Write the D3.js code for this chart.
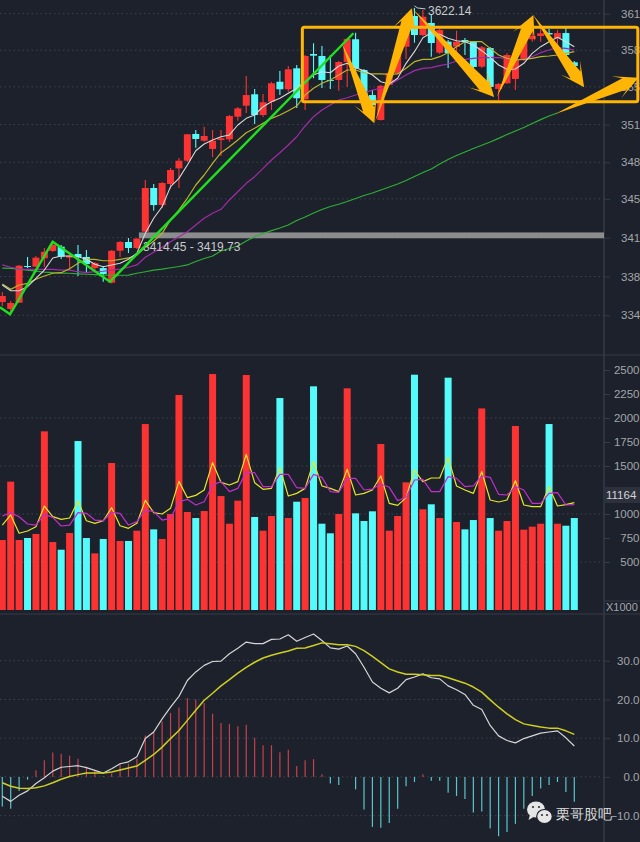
<!DOCTYPE html>
<html>
<head>
<meta charset="utf-8">
<script src="https://cdn.jsdelivr.net/npm/d3@7/dist/d3.min.js"></script>
<style>
html,body{margin:0;padding:0;background:#1c212b;overflow:hidden}
svg{display:block}
text{font-family:"Liberation Sans",Arial,sans-serif}
</style>
</head>
<body>
<svg id="chart" width="640" height="842"></svg>
<script>
// Daily candles
const opens=[3357,3350.7,3356.4,3389.4,3388.8,3396.4,3403,3406.9,3397,3400.3,3397.6,3387.6,3387.6,3374.4,3403.2,3411.1,3405.7,3420.4,3459.8,3444.4,3463.4,3477.5,3484.4,3508.5,3502.4,3495,3503,3503.7,3524.1,3534,3544.3,3525.6,3537.6,3555.6,3548.8,3567.7,3539.8,3580.6,3578.8,3557.2,3557.2,3573.4,3593.9,3566.2,3543.6,3521.1,3552.7,3563.5,3587.2,3614.9,3597.7,3608.6,3581.8,3591.7,3587.2,3593.2,3591.7,3569.2,3586,3549.1,3554.2,3558.1,3575.2,3593.9,3596.8,3599.5,3595,3599.5,3573.1];
const highs=[3366,3358,3390.3,3397.6,3398.5,3405.7,3411.4,3408.4,3399.4,3408.4,3403.9,3393,3389.4,3403.9,3412,3414.7,3414.45,3467,3463.4,3465.2,3477.8,3486.8,3508.5,3512.1,3515.1,3512.1,3512.1,3525.6,3532.8,3560.8,3549,3544.5,3555.4,3565.3,3569.8,3570.7,3579.7,3590.3,3587.8,3579.7,3574.3,3595,3599.8,3567.1,3548.1,3552.7,3564.4,3580.6,3600.4,3622.14,3620.3,3616.7,3603.2,3593.2,3601.6,3595,3592.3,3587.8,3586.9,3554.5,3581.5,3576.1,3598.6,3602.2,3603.8,3603.2,3602.2,3604,3574.3];
const lows=[3353.4,3347,3356,3387.6,3388.5,3388.5,3402.1,3395.8,3385.8,3380.4,3383.1,3385.8,3375.3,3373.7,3397.6,3401.2,3404.8,3419.73,3439.3,3441.7,3458.9,3459.8,3483.2,3496.1,3501.5,3487.7,3488.6,3501.5,3520.5,3527.4,3517.5,3523.8,3530.1,3543.6,3546.6,3531.9,3530.1,3558.7,3550,3549.1,3547.5,3550.9,3559.9,3542.7,3531.9,3520.6,3551.8,3562.6,3576.1,3590.8,3596.8,3578.2,3580.6,3568,3581.5,3579.7,3568,3568,3550,3539.1,3553.6,3548.1,3574.3,3591.7,3591.7,3593.2,3588.7,3577,3565.3];
const closes=[3362.4,3356.1,3389.7,3388.5,3397,3402.3,3408.4,3397.8,3398.7,3397.6,3391.2,3392.1,3382.2,3403.2,3411.1,3405.7,3414.2,3459.8,3444.4,3464.3,3476,3484.4,3508.2,3504,3506.7,3502.4,3504.6,3524.7,3531.6,3543.6,3525.6,3537.1,3554.2,3548.8,3566.8,3540.7,3578.8,3579.1,3557.2,3556.3,3573.4,3594.1,3567.7,3543.6,3534.6,3552,3563.5,3579.7,3599.5,3597.7,3614.2,3590.5,3602.2,3581.5,3591.7,3591.7,3568.9,3586.6,3550.9,3553.6,3579.7,3575.2,3597.7,3596.8,3599.3,3598.2,3599.5,3579.7,3569.8];

// Price moving averages
const ma5=[3372.3,3367.2,3367.2,3370.8,3378.3,3385.8,3396.7,3398.5,3398.5,3397.8,3395.5,3391,3388.8,3390.4,3391.9,3395.5,3400.9,3418.9,3432.5,3442.9,3461,3468.5,3480.5,3493.4,3499.5,3503,3506,3507.6,3516.6,3522.6,3525.6,3533.1,3537.6,3540.7,3545.2,3549.7,3555.6,3561.7,3564.6,3563.7,3569.8,3572.2,3568.3,3565.6,3561.7,3555.6,3553.6,3558.7,3572.2,3582.7,3595.3,3599.8,3598.4,3594.8,3592.6,3591.7,3588.7,3583.6,3577.6,3570.7,3566.8,3567.1,3572.2,3581.2,3587.2,3591.7,3595.7,3591.7,3587.2];
const ma10=[3373.2,3368.4,3372.3,3373.8,3377.5,3380.4,3382.9,3383.4,3387,3391.9,3395.5,3395.5,3394.2,3394.2,3395.5,3396.7,3399.4,3406.3,3412,3418.9,3431,3440,3450.5,3462.5,3471.5,3482,3491.6,3497,3503,3509.6,3513.6,3518.1,3522.6,3525.6,3529.5,3533.7,3543.6,3549.7,3554.2,3557.2,3561.7,3566.2,3566.2,3563.7,3562.6,3562.6,3562.3,3562.6,3567.7,3573.7,3575.8,3575.8,3578.2,3581.8,3587.2,3591.7,3591.7,3591.7,3585.7,3579.7,3576.7,3575.2,3575.8,3576.7,3578.2,3578.8,3579.7,3581.2,3582.7];
const ma20=[3390.4,3388.3,3386.7,3386.5,3386.5,3386.5,3386.5,3385.8,3385.8,3384.3,3383.4,3384.3,3384.7,3385.8,3386.7,3388.3,3390.4,3397.3,3401.8,3406.3,3411.4,3415.9,3420.4,3426.4,3432.5,3437,3440.6,3449,3456.4,3464,3470,3477.5,3485,3491.6,3498.6,3506,3515.7,3524.1,3530.1,3534.6,3539.1,3541.2,3543.6,3545.7,3548.1,3549.7,3552.7,3557.2,3561.7,3565.6,3567.7,3568.3,3570.1,3571.6,3574.3,3575.8,3576.7,3577.3,3577.6,3577.3,3576.7,3575.8,3575.8,3578.2,3581.8,3584.2,3586.3,3585.7,3584.2];
const ma60=[3387.6,3387.4,3386.7,3385.8,3384.9,3384,3383.4,3383.1,3382.9,3382.4,3382,3381.6,3381.3,3381.1,3381.1,3381.3,3382.9,3384.3,3385.8,3386.7,3387.9,3389,3390.4,3393.5,3396.2,3398.5,3403,3405.2,3407.5,3412,3415.9,3418.8,3421.3,3423.7,3426.4,3430.5,3433.6,3437.2,3440.4,3443.1,3445.1,3447.6,3450.3,3453,3455.3,3458,3460.7,3463.4,3466.5,3470.1,3473.8,3476.9,3481.4,3485.5,3489.1,3492.2,3495.4,3498.3,3501.3,3504.5,3508,3511.2,3514.3,3517.9,3521.4,3524.7,3527.4];

// Volume, in thousands, with its two averages
const volume=[729,1337,729,750,792,1861,708,628,802,1760,750,590,740,1531,719,719,826,1937,840,740,1000,2240,1021,958,1031,2458,1187,899,1139,2448,969,826,979,2208,958,1128,1167,2330,899,799,1000,2309,1007,927,1028,1729,826,979,1330,2451,1049,1101,958,2420,917,840,937,2100,958,826,927,1917,837,868,899,1937,899,878,958];
const volFast=[885,990,799,823,868,1083,972,944,958,1135,930,903,930,1066,878,851,903,1142,1014,1000,1059,1340,1170,1194,1250,1535,1330,1302,1337,1621,1326,1257,1267,1483,1187,1215,1267,1545,1292,1267,1233,1465,1198,1215,1250,1396,1111,1090,1170,1458,1337,1375,1375,1590,1292,1250,1215,1441,1146,1125,1146,1347,1094,1076,1076,1285,1083,1097,1118];
const volSlow=[979,1014,972,896,885,996,965,875,885,1014,1007,937,930,1017,1007,885,920,1042,1024,937,955,1128,1153,1094,1128,1302,1337,1233,1267,1434,1430,1285,1285,1413,1413,1274,1267,1413,1382,1233,1226,1371,1371,1250,1260,1312,1278,1139,1174,1354,1361,1233,1233,1389,1371,1285,1292,1396,1382,1205,1198,1285,1250,1111,1111,1215,1222,1094,1097];

// MACD
const dif=[-5,-6.3,-4.7,-3.6,-1.7,-0.2,1.5,2.5,2.7,2.9,2.4,1.7,1,2.1,3.4,3.9,5.2,9.9,11.6,15,18,20.8,24.9,27.1,28.8,29.8,29.9,31.8,33.2,34.8,34.4,34.4,35.5,35.6,36.7,35,36,36.9,35.2,33.3,33,33.8,31.8,28.3,24.5,22.9,21.7,22.9,25.1,25.8,26.6,25.6,25.3,23.5,22.5,21.3,18.5,17.4,13.3,10.6,9.4,8.8,9.9,10.6,11.3,11.6,11.9,10.1,8];
const dea=[-1.5,-2.4,-2.9,-3,-2.8,-2.3,-1.5,-0.6,0.1,0.6,1,1,1,1.3,1.8,2.3,2.8,4.3,5.8,7.7,9.9,12,14.6,17.2,19.8,21.6,23.5,25.1,26.8,28.3,29.6,30.7,31.4,32,32.5,33.2,33.3,33.9,34.6,34.4,34.1,34.1,33.7,32.6,31.1,29.5,27.9,27.1,26.5,26.5,26.4,26.2,26.2,25.6,24.9,24.2,23.2,21.9,19.9,18,16.3,14.8,13.7,13.3,12.9,12.6,12.6,11.9,11];
const hist=[-7.6,-8.2,-3.6,-0.7,1.7,4.3,6.3,6,5.5,4.7,2.7,1.7,0.2,0.9,3.3,3.4,4.7,10.7,11.6,14.3,16.5,17.9,20.4,20,19.1,16.3,13.9,13.7,13.1,13.5,10.1,8.2,8.2,6.4,7,2.8,4.3,4.6,0.7,-1.7,-2.1,0,-3.2,-8.4,-12.9,-13.1,-11.9,-8.2,-2.4,-1.3,0.7,-1,-1,-4.1,-4.9,-5.7,-9.2,-8.9,-13.3,-15.3,-14.2,-12.1,-8.2,-4.9,-3,-2.1,-1.3,-3.9,-6.4];

// Axis ticks; the price axis prints only the leading three digits
const priceTicks=[3617,3584,3551,3517,3483,3450,3415,3380,3345];
const volumeTicks=[2500,2250,2000,1750,1500,1250,1000,750,500];
const volumeGrid=[2000,1500,1000,500];
const macdTicks=[30,20,10,0,-10];

// Hand-drawn markup, as [bar index, price]
const gapLow=3414.45, gapHigh=3419.73, peak=3622.14, lastVolume=11164;
const waveLine=[[-0.27,3352.2],[0.92,3345.9],[5.99,3411.4],[12.8,3375.3],[41.74,3599.3]];
const rangeBox={x0:35.67,x1:75.55,top:3604.7,bottom:3537.6};
const arrows=[
  [40.36,3590.5,44.23,3518.1],
  [44.32,3519.3,48.68,3621.8],
  [48.68,3622.1,58.47,3541.8],
  [58.79,3541.8,63.14,3615.8],
  [63.1,3615.8,69.17,3550.6],
  [65.72,3526.5,75.63,3559.2]
];

const UP='#fb3333', DOWN='#55fbfb', ORANGE='#ffb505', GRID='#3e444f', RULE='#353b47', LABEL='#a3a6ab';
const AXIS_X=604, BAR_W=7;

const svg=d3.select('#chart');
const x=d3.scaleLinear().domain([0,68]).range([2.3,574.3]);
const yPrice=d3.scaleLinear().domain([3629.3,3415]).range([0,237.67]);
const yVol=d3.scaleLinear().domain([0,2500]).range([610,370]);
const yMacd=d3.scaleLinear().domain([-10,30]).range([815.7,660.7]);
const idx=d3.range(volume.length);
const isUp=i=>closes[i]>=opens[i];

// Dotted grid lines
function grid(values,scale){
  svg.append('g').selectAll('line').data(values).join('line')
    .attr('x1',0).attr('x2',AXIS_X)
    .attr('y1',d=>scale(d)).attr('y2',d=>scale(d))
    .attr('stroke',GRID).attr('stroke-width',1).attr('stroke-dasharray','1.5 3');
}
grid(priceTicks,yPrice);
grid(volumeGrid,yVol);
grid(macdTicks,yMacd);

// Panel rules
[355,614].forEach(y=>svg.append('line').attr('x1',0).attr('x2',640).attr('y1',y).attr('y2',y).attr('stroke',RULE));
svg.append('line').attr('x1',AXIS_X).attr('x2',AXIS_X).attr('y1',0).attr('y2',842).attr('stroke',RULE).attr('stroke-width',1.5);

// Price-gap band
svg.append('rect').attr('x',x(16)+2).attr('width',AXIS_X-x(16)-2)
  .attr('y',yPrice(gapHigh)).attr('height',yPrice(gapLow)-yPrice(gapHigh)).attr('fill','#8c8c8c');

// Candles
const candles=svg.append('g');
candles.selectAll('line').data(idx).join('line')
  .attr('x1',i=>x(i)).attr('x2',i=>x(i))
  .attr('y1',i=>yPrice(highs[i])).attr('y2',i=>yPrice(lows[i]))
  .attr('stroke',i=>isUp(i)?UP:DOWN).attr('stroke-width',1.1);
candles.selectAll('rect').data(idx).join('rect')
  .attr('x',i=>x(i)-BAR_W/2).attr('width',BAR_W)
  .attr('y',i=>yPrice(Math.max(opens[i],closes[i])))
  .attr('height',i=>Math.max(1,Math.abs(yPrice(opens[i])-yPrice(closes[i]))))
  .attr('fill',i=>isUp(i)?UP:DOWN);

function series(values,scale,color,width){
  const line=d3.line().x((d,i)=>x(i)).y(d=>scale(d));
  svg.append('path').attr('d',line(values)).attr('fill','none')
    .attr('stroke',color).attr('stroke-width',width).attr('stroke-linejoin','round');
}
series(ma60,yPrice,'#2fae35',1.2);
series(ma20,yPrice,'#a32ba8',1.2);
series(ma10,yPrice,'#b9b42a',1.2);
series(ma5,yPrice,'#d9d9d9',1.1);

// Gap and peak captions
svg.append('text').attr('x',143).attr('y',yPrice(gapLow)+12.8).attr('font-size',12).attr('fill','#c8cacd')
  .text(`${gapLow} - ${gapHigh}`);
svg.append('path').attr('fill','none').attr('stroke','#c8cacd').attr('stroke-width',1)
  .attr('d',d3.line()([[x(49),yPrice(peak)-2],[x(49)+3,yPrice(peak)],[x(49)+11,yPrice(peak)+1]]));
svg.append('text').attr('x',428).attr('y',yPrice(peak)+7.5).attr('font-size',12).attr('fill','#c8cacd').text(peak);

// Volume bars and averages
svg.append('g').selectAll('rect').data(volume).join('rect')
  .attr('x',(d,i)=>x(i)-BAR_W/2).attr('width',BAR_W)
  .attr('y',d=>yVol(d)).attr('height',d=>yVol(0)-yVol(d))
  .attr('fill',(d,i)=>isUp(i)?UP:DOWN);
series(volFast,yVol,'#e6e628',1.2);
series(volSlow,yVol,'#c52dcc',1.2);

// MACD histogram and lines
svg.append('g').selectAll('line').data(hist).join('line')
  .attr('x1',(d,i)=>x(i)).attr('x2',(d,i)=>x(i))
  .attr('y1',yMacd(0)).attr('y2',d=>yMacd(d))
  .attr('stroke',d=>d>=0?'#c6404a':'#58c6cd').attr('stroke-width',1.2);
series(dif,yMacd,'#d6d6d6',1.2);
series(dea,yMacd,'#cfcf22',1.5);

// Right-hand axes
function axis(scale,values,format,anchor,tx){
  const g=svg.append('g').attr('transform',`translate(${AXIS_X},0)`)
    .call(d3.axisRight(scale).tickValues(values).tickFormat(format).tickSize(6).tickSizeOuter(0));
  g.select('.domain').remove();
  g.selectAll('.tick line').attr('stroke',RULE);
  g.selectAll('.tick text').attr('fill',LABEL).attr('font-size',11.5)
    .attr('font-family','"Liberation Sans",Arial,sans-serif')
    .attr('text-anchor',anchor).attr('x',tx);
  return g;
}
axis(yPrice,priceTicks,d=>Math.floor(d/10),'start',17);
// The 1250 tick sits under the current-volume tag, so it carries no label
axis(yVol,volumeTicks,d=>d===1250?'':d,'end',35.5);
axis(yMacd,macdTicks,d3.format('.1f'),'end',35.5);

// Current-volume tag and unit tag
svg.append('rect').attr('x',AXIS_X-1).attr('y',487).attr('width',37).attr('height',16).attr('fill','#2c313c');
svg.append('text').attr('x',606).attr('y',499).attr('font-size',11.5).attr('fill','#d2d4d7').text(lastVolume);
svg.append('line').attr('x1',AXIS_X).attr('x2',640).attr('y1',601).attr('y2',601).attr('stroke',RULE);
svg.append('text').attr('x',606).attr('y',611).attr('font-size',11).attr('fill',LABEL).text('X1000');

// Green wave line
svg.append('path').attr('fill','none').attr('stroke','#1fe01f').attr('stroke-width',2.4).attr('stroke-linejoin','miter')
  .attr('d',d3.line().x(d=>x(d[0])).y(d=>yPrice(d[1]))(waveLine));

// Orange range box
svg.append('rect').attr('x',x(rangeBox.x0)).attr('width',x(rangeBox.x1)-x(rangeBox.x0))
  .attr('y',yPrice(rangeBox.top)).attr('height',yPrice(rangeBox.bottom)-yPrice(rangeBox.top))
  .attr('rx',2).attr('fill','none').attr('stroke',ORANGE).attr('stroke-width',3);

// Tapered orange arrows
function arrowPoints([i0,p0,i1,p1]){
  const sx=x(i0), sy=yPrice(p0), tx=x(i1), ty=yPrice(p1);
  const len=Math.hypot(tx-sx,ty-sy), ux=(tx-sx)/len, uy=(ty-sy)/len, nx=-uy, ny=ux;
  const at=(along,side)=>[tx-ux*along+nx*side, ty-uy*along+ny*side];
  return [[sx,sy],at(15,6),at(24,12),[tx,ty],at(24,-12),at(15,-6)];
}
svg.append('g').selectAll('polygon').data(arrows).join('polygon')
  .attr('points',d=>arrowPoints(d).join(' ')).attr('fill',ORANGE);

// Watermark
const mark=svg.append('g').attr('fill','#e6e6e6');
mark.append('ellipse').attr('cx',536).attr('cy',809.5).attr('rx',9).attr('ry',8);
mark.append('path').attr('d','M530 815l-1.5 5 5-3z');
mark.append('ellipse').attr('cx',544.5).attr('cy',816.5).attr('rx',7.8).attr('ry',7).attr('stroke','#1c212b').attr('stroke-width',1.2);
[[533,807],[539,807],[542,815],[547,815]].forEach(([cx,cy])=>
  svg.append('circle').attr('cx',cx).attr('cy',cy).attr('r',1.1).attr('fill','#2c313c'));
svg.append('text').attr('x',556).attr('y',819).attr('font-size',14.2)
  .attr('font-family','"Noto Sans CJK SC",sans-serif').attr('fill','#dcdcdc').text('栗哥股吧');
</script>
</body>
</html>
